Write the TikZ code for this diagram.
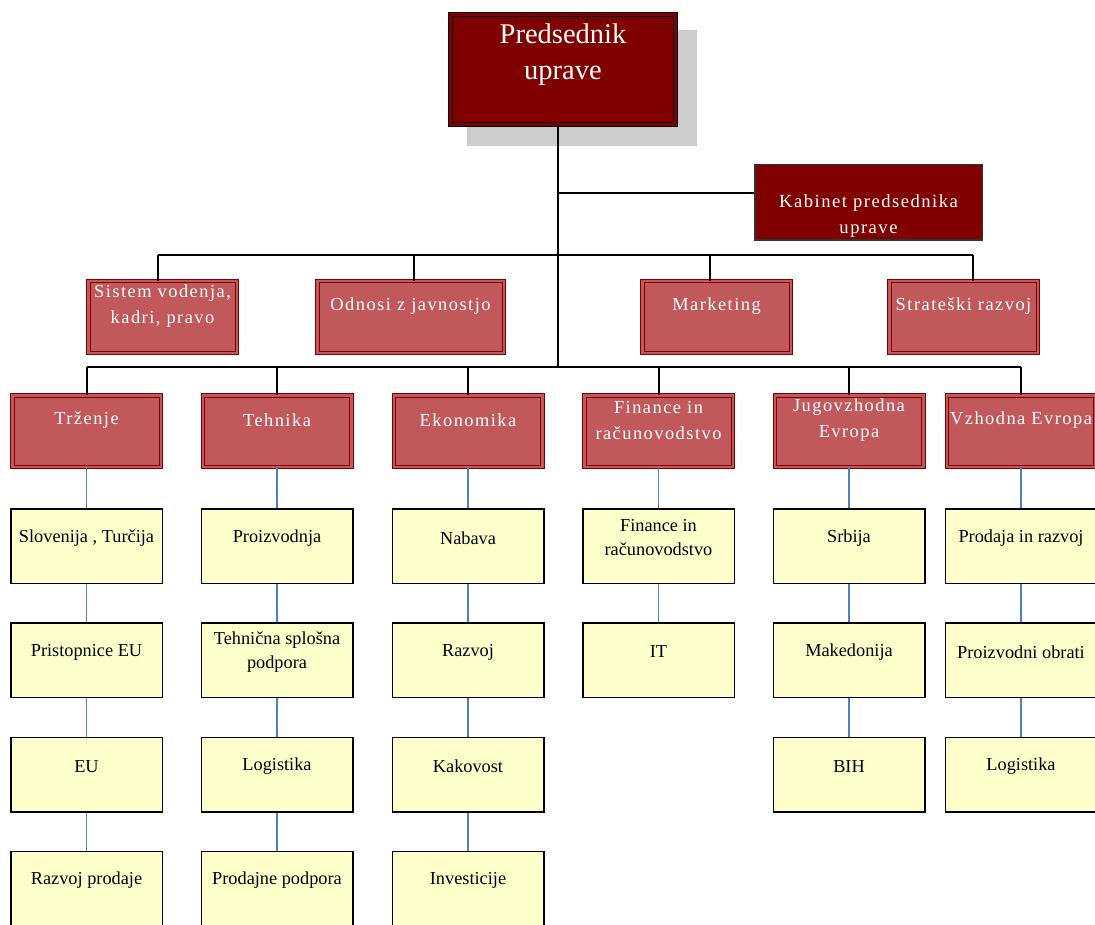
\documentclass[tikz,border=0pt]{standalone}
\usepackage{fontspec}
\setmainfont{Liberation Serif}
\newfontfamily\razprto[LetterSpace=8]{Liberation Serif}

\definecolor{upravared}{HTML}{800000}
\definecolor{sektorred}{HTML}{C0585C}
\definecolor{oddelekyellow}{HTML}{FFFFCC}
\definecolor{povezavablue}{HTML}{4F81BD}
\definecolor{senca}{HTML}{CCCCCC}

\tikzset{
  veja/.style={line width=2pt},
  povezava/.style={draw=povezavablue, line width=1.5pt},
  sektorlbl/.style={text=white, font=\razprto\fontsize{18.4}{26}\selectfont, align=center, yshift=10.5pt},
  sektor/.style={draw=upravared, line width=1pt, double=sektorred, double distance=2.5pt,
    fill=sektorred, minimum width=148.5pt, minimum height=71.5pt, inner sep=0pt,
    label={[sektorlbl]center:#1}},
  oddeleklbl/.style={font=\fontsize{18.3}{24}\selectfont, align=center, yshift=8pt},
  oddelek/.style={draw=black, line width=1.5pt, fill=oddelekyellow,
    minimum width=151.5pt, minimum height=74.5pt, inner sep=0pt,
    label={[oddeleklbl]center:#1}}
}

\begin{document}
\begin{tikzpicture}[x=1pt,y=-1pt]
\clip (0,0) rectangle (1095,925);
\fill[white] (0,0) rectangle (1095,925);

% vrh
\fill[senca] (467,30) rectangle (697,146);
\node[draw=black, line width=1pt, double=upravared, double distance=3pt, fill=upravared,
  minimum width=225pt, minimum height=110pt, inner sep=0pt,
  label={[text=white, font=\fontsize{28.5}{36}\selectfont, align=center, yshift=14.5pt]center:Predsednik\\uprave}]
  (predsednik) at (563,69.5) {};
\node[draw=black!80, line width=1.5pt, fill=upravared, minimum width=227.5pt, minimum height=75.5pt,
  inner sep=0pt, label={[text=white, font=\razprto\fontsize{18.6}{26}\selectfont, align=center, yshift=-13.5pt]center:Kabinet predsednika\\uprave}]
  (kabinet) at (868.5,202.5) {};

\coordinate (spine) at (558,367);
\coordinate (kabj) at (558,193);
\draw[veja] (predsednik.south -| spine) -- (spine);
\draw[veja] (kabj) -- (kabinet.west |- kabj);

% staff
\node[sektor={Sistem vodenja,\\kadri, pravo}] (sistem) at (162.5,317) {};
\node[sektor={Odnosi z javnostjo}, minimum width=186.5pt] (odnosi) at (410.5,317) {};
\node[sektor={Marketing}] (marketing) at (716.5,317) {};
\node[sektor={Strateški razvoj}] (strateski) at (963.5,317) {};

\coordinate (b-sis) at (158,255);
\coordinate (b-odn) at (414,255);
\coordinate (b-mar) at (710,255);
\coordinate (b-str) at (973,255);
\draw[veja] (b-sis) -- (b-str);
\draw[veja] (b-sis) -- (b-sis |- sistem.north);
\draw[veja] (b-odn) -- (b-odn |- odnosi.north);
\draw[veja] (b-mar) -- (b-mar |- marketing.north);
\draw[veja] (b-str) -- (b-str |- strateski.north);

% sektorji
\node[sektor={Trženje}] (trz) at (86.5,431) {};
\node[sektor={Tehnika}] (teh) at (277,431) {};
\node[sektor={Ekonomika}] (eko) at (468,431) {};
\node[sektor={Finance in\\računovodstvo}] (fin) at (658.5,431) {};
\node[sektor={Jugovzhodna\\Evropa}] (jug) at (849,431) {};
\node[sektor={Vzhodna Evropa}] (vzh) at (1021,431) {};

\draw[veja] (trz.north |- spine) -- (vzh.north |- spine);
\draw[veja] (trz) -- (trz |- spine);
\draw[veja] (teh) -- (teh |- spine);
\draw[veja] (eko) -- (eko |- spine);
\draw[veja] (fin) -- (fin |- spine);
\draw[veja] (jug) -- (jug |- spine);
\draw[veja] (vzh) -- (vzh |- spine);

% oddelki
\node[oddelek={Slovenija , Turčija}] (trz1) at (86.5,546) {};
\node[oddelek={Pristopnice EU}] (trz2) at (86.5,660) {};
\node[oddelek={EU}] (trz3) at (86.5,774.5) {};
\node[oddelek={Razvoj prodaje}] (trz4) at (86.5,888.5) {};

\node[oddelek={Proizvodnja}] (teh1) at (277,546) {};
\node[oddelek={Tehnična splošna\\podpora}] (teh2) at (277,660) {};
\node[oddelek={Logistika}] (teh3) at (277,774.5) {};
\node[oddelek={Prodajne podpora}] (teh4) at (277,888.5) {};

\node[oddelek={Nabava}] (eko1) at (468,546) {};
\node[oddelek={Razvoj}] (eko2) at (468,660) {};
\node[oddelek={Kakovost}] (eko3) at (468,774.5) {};
\node[oddelek={Investicije}] (eko4) at (468,888.5) {};

\node[oddelek={Finance in\\računovodstvo}] (fin1) at (658.5,546) {};
\node[oddelek={IT}] (fin2) at (658.5,660) {};

\node[oddelek={Srbija}] (jug1) at (849,546) {};
\node[oddelek={Makedonija}] (jug2) at (849,660) {};
\node[oddelek={BIH}] (jug3) at (849,774.5) {};

\node[oddelek={Prodaja in razvoj}] (vzh1) at (1021,546) {};
\node[oddelek={Proizvodni obrati}] (vzh2) at (1021,660) {};
\node[oddelek={Logistika}] (vzh3) at (1021,774.5) {};

\draw[povezava] (trz) -- (trz1);
\draw[povezava] (trz1) -- (trz2);
\draw[povezava] (trz2) -- (trz3);
\draw[povezava] (trz3) -- (trz4);
\draw[povezava] (teh) -- (teh1);
\draw[povezava] (teh1) -- (teh2);
\draw[povezava] (teh2) -- (teh3);
\draw[povezava] (teh3) -- (teh4);
\draw[povezava] (eko) -- (eko1);
\draw[povezava] (eko1) -- (eko2);
\draw[povezava] (eko2) -- (eko3);
\draw[povezava] (eko3) -- (eko4);
\draw[povezava] (fin) -- (fin1);
\draw[povezava] (fin1) -- (fin2);
\draw[povezava] (jug) -- (jug1);
\draw[povezava] (jug1) -- (jug2);
\draw[povezava] (jug2) -- (jug3);
\draw[povezava] (vzh) -- (vzh1);
\draw[povezava] (vzh1) -- (vzh2);
\draw[povezava] (vzh2) -- (vzh3);

\end{tikzpicture}
\end{document}
